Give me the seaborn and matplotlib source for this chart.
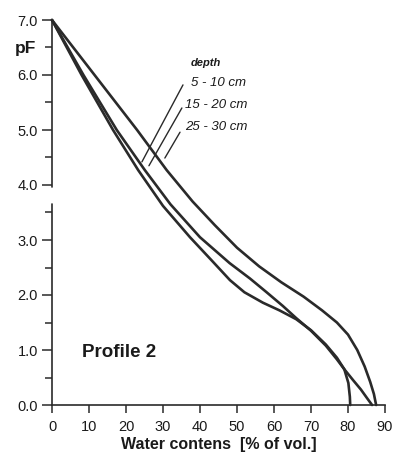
import matplotlib
matplotlib.use("Agg")
import matplotlib.pyplot as plt
import seaborn as sns
import pandas as pd

# --- data ---
depths = ["5 - 10 cm", "15 - 20 cm", "25 - 30 cm"]

water_a = [0, 11.5, 23, 31, 38, 44, 50, 56, 62, 68, 73, 77, 80, 82.5, 84.5, 86, 87, 87.6]
pf_a = [7.0, 6.0, 5.0, 4.27, 3.7, 3.27, 2.86, 2.52, 2.23, 1.97, 1.72, 1.5, 1.28, 1.0, 0.7, 0.42, 0.2, 0.0]

water_b = [0, 8.5, 17.5, 25.1, 32, 40, 48, 53.5, 58, 62.4, 66, 70, 74, 77, 79, 81.4, 83.5, 85.2, 86.5]
pf_b = [7.0, 6.0, 5.0, 4.27, 3.65, 3.05, 2.58, 2.3, 2.05, 1.8, 1.58, 1.35, 1.08, 0.83, 0.65, 0.45, 0.28, 0.12, 0.0]

water_c = [0, 8, 16.5, 23.3, 30, 37.3, 43, 48.1, 52, 57, 61.5, 66, 70, 74, 77, 79, 80.1, 80.5, 80.6]
pf_c = [7.0, 6.0, 5.0, 4.27, 3.62, 3.05, 2.64, 2.27, 2.05, 1.86, 1.72, 1.56, 1.36, 1.1, 0.86, 0.65, 0.4, 0.15, 0.0]

x_ticks = [0, 10, 20, 30, 40, 50, 60, 70, 80, 90]
y_ticks = [0.0, 1.0, 2.0, 3.0, 4.0, 5.0, 6.0, 7.0]
y_minor = [0.5, 1.5, 2.5, 3.5, 4.5, 5.5, 6.5]

sns.set_style("white")
plt.rcParams["font.family"] = ["Liberation Sans", "DejaVu Sans"]

fig = plt.figure(figsize=(3.96, 4.65), dpi=100)
ax = fig.add_axes([52 / 396, 60 / 465, 333 / 396, 385 / 465])

ink = "#2a2a2a"
for xs, ys in [(water_a, pf_a), (water_b, pf_b), (water_c, pf_c)]:
    df = pd.DataFrame({"water": xs, "pF": ys})
    sns.lineplot(data=df, x="water", y="pF", sort=False, color=ink, lw=1.9,
                 ax=ax, clip_on=False, solid_capstyle="round", solid_joinstyle="round")

ax.set_xlim(0, 90)
ax.set_ylim(0, 7.0)
ax.set_xticks(x_ticks)
ax.set_xticklabels([str(t) for t in x_ticks])
ax.set_yticks(y_ticks)
ax.set_yticklabels([f"{t:.1f}" for t in y_ticks])
ax.set_yticks(y_minor, minor=True)

for s in ["top", "right"]:
    ax.spines[s].set_visible(False)
ax.spines["left"].set_visible(False)
ax.spines["bottom"].set_linewidth(1.2)
ax.spines["bottom"].set_color(ink)
# broken y axis line
ax.plot([0, 0], [0, 3.65], color=ink, lw=1.2, clip_on=False)
ax.plot([0, 0], [3.97, 7.0], color=ink, lw=1.2, clip_on=False)

ax.tick_params(axis="both", which="both", direction="out", color=ink, width=1.1)
ax.tick_params(axis="x", which="major", length=6, labelsize=10.5, pad=5, labelcolor="#1a1a1a")
ax.tick_params(axis="y", which="major", length=7, labelsize=10.5, pad=3, labelcolor="#1a1a1a")
ax.tick_params(axis="y", which="minor", length=5, left=True)
ax.tick_params(left=True, bottom=True)
for lab in ax.get_xticklabels() + ax.get_yticklabels():
    lab.set_fontweight("medium")

ax.set_xlabel("Water contens  [% of vol.]", fontsize=11.5, fontweight="bold", labelpad=2, color="#1a1a1a")
ax.set_ylabel("")

fig.text(25 / 396, 1 - 48 / 465, "pF", fontsize=12.5, fontweight="bold", ha="center", va="center", color="#1a1a1a")

ax.text(8.0, 0.95, "Profile 2", fontsize=13.5, fontweight="bold", ha="left", va="center", color="#1a1a1a")

# depth labels with leader lines
ax.text(37.5, 6.22, "depth", fontsize=8, fontweight="bold", style="italic", ha="left", va="center", color="#1a1a1a")
label_pos = [(37.5, 5.86), (36.0, 5.46), (36.0, 5.05)]
for (tx, ty), lab in zip(label_pos, depths):
    ax.text(tx, ty, lab, fontsize=9.5, style="italic", ha="left", va="center", color="#1a1a1a")

leaders = [((35.4, 5.82), (24.3, 4.42)), ((35.1, 5.40), (26.2, 4.35)), ((34.6, 4.96), (30.5, 4.49))]
for (x0, y0), (x1, y1) in leaders:
    ax.plot([x0, x1], [y0, y1], color=ink, lw=1.0)

fig.savefig("out.png", dpi=100)
